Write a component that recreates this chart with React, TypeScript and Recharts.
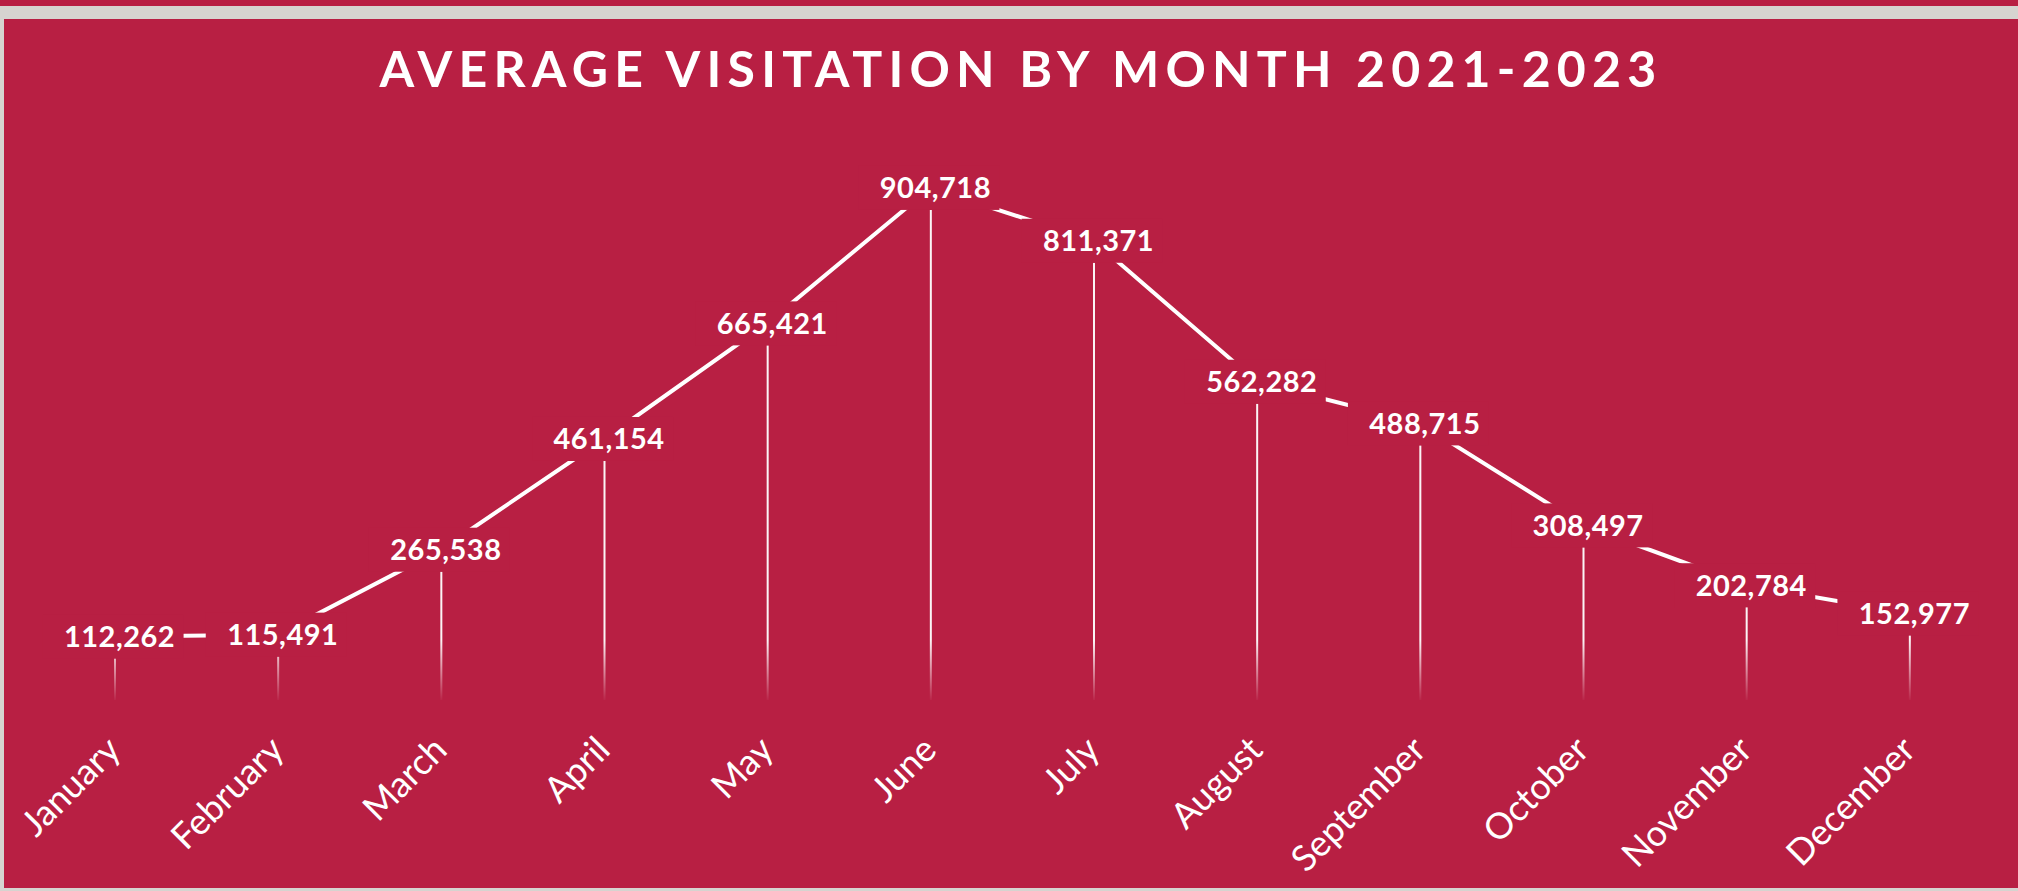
import { Bar, ComposedChart, LabelList, Line, XAxis, YAxis } from "recharts"

const months = [
  "January",
  "February",
  "March",
  "April",
  "May",
  "June",
  "July",
  "August",
  "September",
  "October",
  "November",
  "December",
]

const visits = [
  112262, 115491, 265538, 461154, 665421, 904718, 811371, 562282, 488715, 308497, 202784, 152977,
]

const title = "AVERAGE VISITATION BY MONTH 2021-2023"

const RED = "#b81f43"
const GRAY = "#d6d4d0"

const data = months.map((month, i) => ({ month, visits: visits[i] }))

function ValueLabel(props: any) {
  const { x, y, value } = props
  if (x == null || y == null) return null
  return (
    <g>
      <rect x={x - 72} y={y - 22} width={141} height={44} fill={RED} />
      <text
        x={x + 5}
        y={y + 10.5}
        textAnchor="middle"
        fill="#fff"
        fontFamily="Lato"
        fontWeight={700}
        fontSize={29}
        letterSpacing={0.5}
      >
        {Number(value).toLocaleString("en-US")}
      </text>
    </g>
  )
}

function DropLine(props: any) {
  const { x, y, width, height } = props
  if (height == null || height <= 22) return null
  return (
    <rect
      x={x + width / 2 - 1}
      y={y + 22}
      width={2}
      height={height - 22}
      fill="url(#dropFade)"
    />
  )
}

function MonthTick(props: any) {
  const { x, y, payload } = props
  const tx = x + 8
  const ty = y + 44
  return (
    <text
      x={tx}
      y={ty}
      transform={`rotate(-45, ${tx}, ${ty})`}
      textAnchor="end"
      fill="#fff"
      fontFamily="Lato"
      fontSize={36}
    >
      {payload.value}
    </text>
  )
}

export default function App() {
  return (
    <div
      style={{
        position: "absolute",
        left: 0,
        top: 0,
        width: 2018,
        height: 891,
        background: GRAY,
        overflow: "hidden",
      }}
    >
      <div style={{ position: "absolute", left: 0, top: 0, width: 2018, height: 6, background: RED }} />
      <div style={{ position: "absolute", left: 4, top: 19, width: 2014, height: 869, background: RED }} />
      <div
        style={{
          position: "absolute",
          left: 14,
          top: 38,
          width: 2014,
          textAlign: "center",
          color: "#fff",
          fontFamily: "Lato",
          fontWeight: 700,
          fontSize: 50,
          lineHeight: "60px",
          letterSpacing: 6.2,
          whiteSpace: "nowrap",
        }}
      >
        {title}
      </div>
      <div style={{ position: "absolute", left: 0, top: 0 }}>
        <ComposedChart
          width={2018}
          height={891}
          data={data}
          margin={{ top: 134, right: 27, left: 33, bottom: 131 }}
        >
          <defs>
            <linearGradient id="dropFade" gradientUnits="userSpaceOnUse" x1={0} y1={640} x2={0} y2={702}>
              <stop offset="0%" stopColor="#fff" stopOpacity={0.95} />
              <stop offset="100%" stopColor="#fff" stopOpacity={0} />
            </linearGradient>
          </defs>
          <XAxis
            dataKey="month"
            axisLine={false}
            tickLine={false}
            interval={0}
            height={60}
            tick={<MonthTick />}
          />
          <YAxis hide domain={[0, 1000000]} />
          <Bar dataKey="visits" barSize={2} shape={<DropLine />} isAnimationActive={false} />
          <Line
            type="linear"
            dataKey="visits"
            stroke="#fff"
            strokeWidth={4}
            dot={false}
            activeDot={false}
            isAnimationActive={false}
          >
            <LabelList dataKey="visits" content={<ValueLabel />} />
          </Line>
        </ComposedChart>
      </div>
    </div>
  )
}
